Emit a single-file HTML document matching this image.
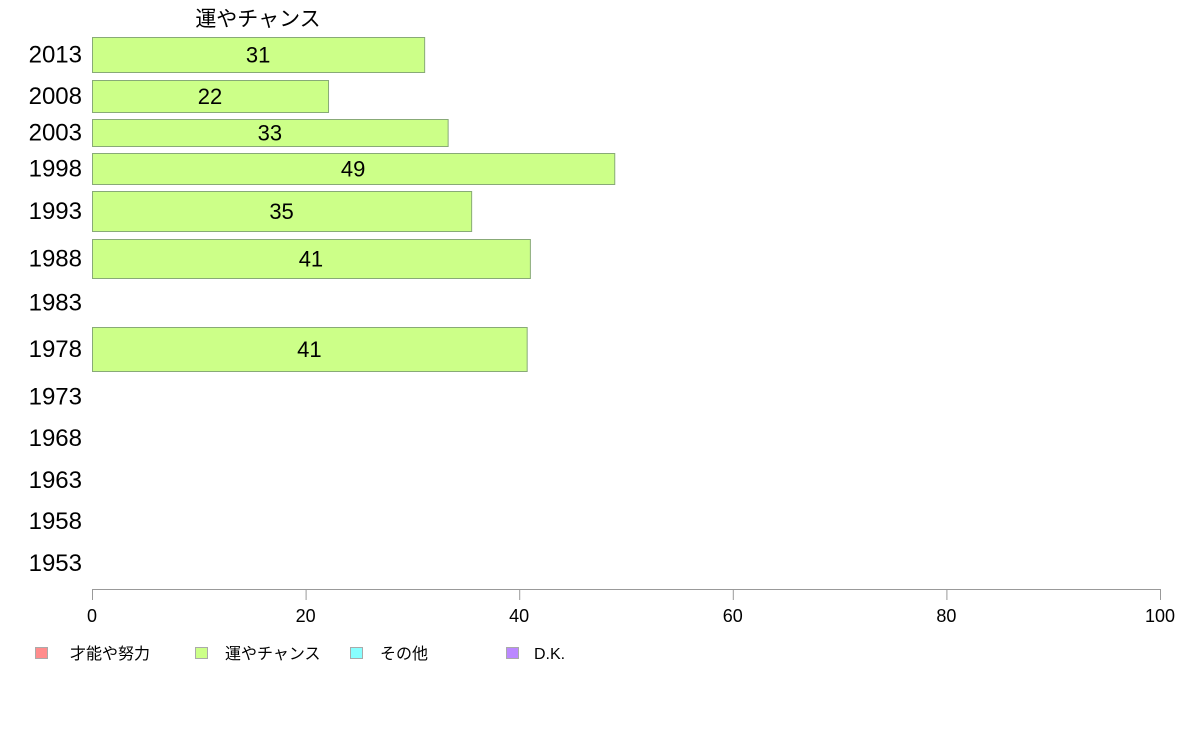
<!DOCTYPE html>
<html><head><meta charset="utf-8"><style>
body{margin:0;background:#fff;}
svg{display:block;font-family:"Liberation Sans","Noto Sans CJK JP",sans-serif;}
</style></head><body>
<svg id="chart" width="1188" height="736" viewBox="0 0 1188 736">
<text x="258" y="26" font-size="21" text-anchor="middle">運やチャンス</text>
<g id="bars"></g>
<g id="ylabels"></g>
<g id="xaxis"></g>
<g font-size="16">
 <g><rect x="35.5" y="647.5" width="12" height="11" fill="#ff8c8c" stroke="#aaa"/><text x="70" y="659">才能や努力</text></g>
 <g><rect x="195.5" y="647.5" width="12" height="11" fill="#ccff88" stroke="#aaa"/><text x="225" y="659">運やチャンス</text></g>
 <g><rect x="350.5" y="647.5" width="12" height="11" fill="#88ffff" stroke="#aaa"/><text x="380" y="659">その他</text></g>
 <g><rect x="506.5" y="647.5" width="12" height="11" fill="#bb88ff" stroke="#aaa"/><text x="534" y="659">D.K.</text></g>
</g>
</svg>
<script>
const years = ["2013","2008","2003","1998","1993","1988","1983","1978","1973","1968","1963","1958","1953"];
const values = [31.1, 22.1, 33.3, 48.9, 35.5, 41.0, null, 40.7, null, null, null, null, null];
const labels = ["31","22","33","49","35","41","","41","","","","",""];
const xTicks = [0,20,40,60,80,100];
const rowTop = [37,80,119,153,191,239,285,327,378,420,462,503,545];
const rowBot = [72,112,146,184,231,278,320,371,415,456,498,539,581];
const x0=92, x1=1160;
const xs = v => x0 + (x1-x0)*v/100;
const NS="http://www.w3.org/2000/svg";
const bars=document.getElementById('bars'), yl=document.getElementById('ylabels'), xa=document.getElementById('xaxis');
years.forEach((y,i)=>{
  const cy=(rowTop[i]+rowBot[i])/2;
  const t=document.createElementNS(NS,'text');
  
  
  t.setAttribute('x',82);t.setAttribute('y',cy+8);t.setAttribute('font-size','24');t.setAttribute('text-anchor','end');
  t.textContent=y;yl.appendChild(t);
  if(values[i]!=null){
    const r=document.createElementNS(NS,'rect');
    
    
    r.setAttribute('x',x0+0.5);r.setAttribute('y',rowTop[i]+0.5);
    r.setAttribute('width',xs(values[i])-x0);r.setAttribute('height',rowBot[i]-rowTop[i]);
    r.setAttribute('fill','#ccff88');r.setAttribute('stroke','#88aa77');
    bars.appendChild(r);
    const l=document.createElementNS(NS,'text');
    
    
    l.setAttribute('x',(x0+xs(values[i]))/2);l.setAttribute('y',cy+8);
    l.setAttribute('font-size','22');l.setAttribute('text-anchor','middle');
    l.textContent=labels[i];bars.appendChild(l);
  }
});
const ax=document.createElementNS(NS,'line');


ax.setAttribute('x1',x0);ax.setAttribute('x2',x1);ax.setAttribute('y1',589.5);ax.setAttribute('y2',589.5);ax.setAttribute('stroke','#999');
xa.appendChild(ax);
xTicks.forEach(v=>{
  const tk=document.createElementNS(NS,'line');
  
  
  tk.setAttribute('x1',xs(v)+0.5);tk.setAttribute('x2',xs(v)+0.5);tk.setAttribute('y1',589);tk.setAttribute('y2',600);tk.setAttribute('stroke','#999');
  xa.appendChild(tk);
  const t=document.createElementNS(NS,'text');
  
  
  t.setAttribute('x',xs(v));t.setAttribute('y',622);t.setAttribute('font-size','18');t.setAttribute('text-anchor','middle');
  t.textContent=v;xa.appendChild(t);
});
</script>
</body></html>
